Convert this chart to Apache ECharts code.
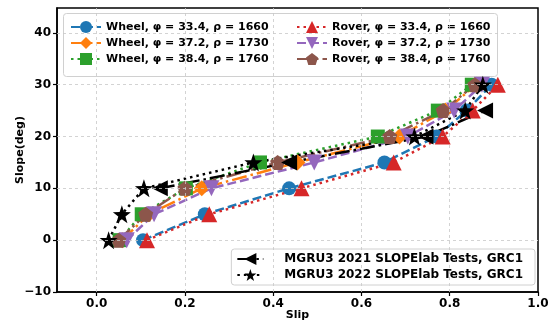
<!DOCTYPE html>
<html><head><meta charset="utf-8">
<script src="https://cdn.jsdelivr.net/npm/echarts@6/dist/echarts.min.js"></script>
<style>html,body{margin:0;padding:0;background:#fff}#c{width:550px;height:323px}</style>
</head><body><div id="c"></div>
<script>
var slopes = [0, 5, 10, 15, 20, 25, 30];
var wheel334 = [0.105, 0.245, 0.436, 0.652, 0.770, 0.838, 0.895];
var wheel372 = [0.058, 0.118, 0.238, 0.455, 0.686, 0.790, 0.860];
var wheel384 = [0.052, 0.102, 0.202, 0.370, 0.637, 0.773, 0.850];
var rover334 = [0.114, 0.255, 0.464, 0.673, 0.784, 0.852, 0.909];
var rover372 = [0.068, 0.130, 0.260, 0.493, 0.705, 0.810, 0.873];
var rover384 = [0.050, 0.111, 0.200, 0.410, 0.664, 0.785, 0.857];
var mgru2021Slopes = [10, 15, 20, 25];
var mgru2021Slip = [0.143, 0.436, 0.745, 0.880];
var mgru2022Slopes = [0, 5, 10, 15, 20, 25, 30];
var mgru2022Slip = [0.027, 0.057, 0.107, 0.355, 0.720, 0.835, 0.875];
var xTicks = [0.0, 0.2, 0.4, 0.6, 0.8, 1.0];
var yTicks = [-10, 0, 10, 20, 30, 40];
var names = ['Wheel, φ = 33.4, ρ = 1660','Wheel, φ = 37.2, ρ = 1730','Wheel, φ = 38.4, ρ = 1760',
             'Rover, φ = 33.4, ρ = 1660','Rover, φ = 37.2, ρ = 1730','Rover, φ = 38.4, ρ = 1760',
             'MGRU3 2021 SLOPElab Tests, GRC1','MGRU3 2022 SLOPElab Tests, GRC1'];

function pairs(xs, ys){ return xs.map(function(x,i){ return [x, ys[i]]; }); }
var LW = 2.5;
var dashed = [9, 4], dotted = [2.5, 4], dashdot = [15, 4, 2.5, 4];
var pent = 'path://M0,-10 L9.51,-3.09 L5.88,8.09 L-5.88,8.09 L-9.51,-3.09 Z';
var star = 'path://M0,-10 L2.35,-3.24 L9.51,-3.09 L3.8,1.24 L5.88,8.09 L0,4 L-5.88,8.09 L-3.8,1.24 L-9.51,-3.09 L-2.35,-3.24 Z';
var downTri = 'path://M-10,-8.66 L10,-8.66 L0,8.66 Z';
var leftTri = 'path://M-8.66,0 L8.66,-10 L8.66,10 Z';

function ser(name, data, color, dash, symbol, size){
  return {type:'line', name:name, data:data, symbol:symbol, symbolSize:size,
    itemStyle:{color:color}, lineStyle:{color:color, width:LW, type:dash, cap:'butt'},
    showSymbol:true, animation:false};
}
var font = 'DejaVu Sans';
var series = [
  ser(names[0], pairs(wheel334, slopes), '#1f77b4', dashed, 'circle', 14),
  ser(names[1], pairs(wheel372, slopes), '#ff7f0e', dashdot, 'diamond', 16),
  ser(names[2], pairs(wheel384, slopes), '#2ca02c', dotted, 'rect', 14),
  ser(names[3], pairs(rover334, slopes), '#d62728', dotted, 'triangle', 16),
  ser(names[4], pairs(rover372, slopes), '#9467bd', dashed, downTri, 16),
  ser(names[5], pairs(rover384, slopes), '#8c564b', dashdot, pent, 15),
  ser(names[6], pairs(mgru2021Slip, mgru2021Slopes), '#000000', dashdot, leftTri, 16),
  ser(names[7], pairs(mgru2022Slip, mgru2022Slopes), '#000000', dotted, star, 18)
];
var gridLines = xTicks.filter(function(v){return v>-0.09 && v<1.0;}).map(function(v){return {xAxis:v};})
  .concat(yTicks.filter(function(v){return v>-10;}).map(function(v){return {yAxis:v};}));
series.unshift({type:'line', data:[], silent:true, animation:false,
  markLine:{silent:true, symbol:['none','none'], label:{show:false}, animation:false,
    lineStyle:{color:'#c8c8c8', type:[3,3], width:0.8}, data:gridLines}, z:1});

var legendText = {fontFamily:font, fontWeight:'bold', fontSize:11, color:'#000'};
var legendText2 = {fontFamily:font, fontWeight:'bold', fontSize:12, color:'#000', padding:[0,0,0,16]};
var chart = echarts.init(document.getElementById('c'), null, {renderer:'canvas'});
chart.setOption({
  backgroundColor:'#fff',
  animation:false,
  grid:{left:57, right:12, top:8, bottom:31, show:true, borderColor:'#000', borderWidth:1.5,
    containLabel:false, outerBoundsMode:'none'},
  xAxis:{type:'value', min:-0.09, max:1.0,
    name:'Slip', nameLocation:'middle', nameGap:18, nameMoveOverlap:false,
    nameTextStyle:{fontFamily:font, fontWeight:'bold', fontSize:11, color:'#000'},
    axisLine:{onZero:false, lineStyle:{color:'#000', width:1.5}},
    axisTick:{show:true, inside:false, length:4, lineStyle:{color:'#000', width:1.2}, customValues:xTicks},
    axisLabel:{customValues:xTicks, margin:6, fontFamily:font, fontWeight:'bold', fontSize:12, color:'#000',
      formatter:function(v){return v.toFixed(1);}},
    splitLine:{show:false}},
  yAxis:{type:'value', min:-10, max:44.8,
    name:'Slope(deg)', nameLocation:'middle', nameGap:31, nameMoveOverlap:false,
    nameTextStyle:{fontFamily:font, fontWeight:'bold', fontSize:11, color:'#000'},
    axisLine:{show:true, onZero:false, lineStyle:{color:'#000', width:1.5}},
    axisTick:{show:true, inside:false, length:4, lineStyle:{color:'#000', width:1.2}, customValues:yTicks},
    axisLabel:{customValues:yTicks, margin:6, fontFamily:font, fontWeight:'bold', fontSize:12, color:'#000',
      formatter:function(v){return String(v).replace('-', '\u2212');}},
    splitLine:{show:false}},
  graphic:[{type:'rect', z:3, shape:{x:63.5, y:13.5, width:434, height:63, r:3},
    style:{fill:'rgba(255,255,255,0.85)', stroke:'#d0d0d0', lineWidth:1}}],
  legend:[
    {orient:'vertical', left:65, top:16, itemWidth:30, itemHeight:15, itemGap:4, z:5,
     data:names.slice(0,3), textStyle:legendText, selectedMode:false},
    {orient:'vertical', left:291, top:16, itemWidth:30, itemHeight:15, itemGap:4, z:5,
     data:names.slice(3,6), textStyle:legendText, selectedMode:false},
    {orient:'vertical', right:15, bottom:38, itemWidth:26, itemHeight:15, itemGap:4, z:5,
     padding:[4,12,4,5], backgroundColor:'rgba(255,255,255,0.85)', borderColor:'#d0d0d0', borderWidth:1, borderRadius:3,
     data:names.slice(6,8), textStyle:legendText2, selectedMode:false}
  ],
  series:series
});
</script></body></html>
